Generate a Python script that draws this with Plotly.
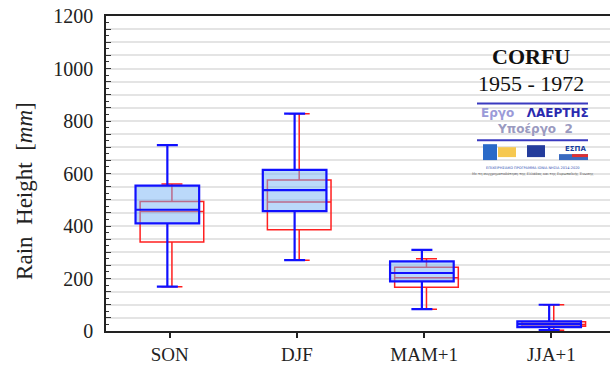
import numpy as np
import plotly.graph_objects as go

categories = ["SON", "DJF", "MAM+1", "JJA+1"]

# Blue series (box statistics, mm)
blue_low = [169, 270, 83, 3]
blue_q1 = [410, 457, 189, 15]
blue_med = [462, 537, 221, 26]
blue_q3 = [554, 614, 265, 37]
blue_high = [708, 828, 309, 100]

# Red series (box statistics, mm)
red_low = [169, 270, 83, 3]
red_q1 = [339, 386, 167, 18]
red_med = [455, 491, 203, 25]
red_q3 = [493, 575, 243, 35]
red_high = [560, 828, 275, 100]

y_tick_values = list(range(0, 1201, 50))
y_tick_labels = [str(v) if v % 200 == 0 else "" for v in y_tick_values]

pos = np.arange(len(categories))
SERIF = "Liberation Serif"

fig = go.Figure()
fig.add_trace(go.Box(
    x=pos + 0.018, q1=red_q1, median=red_med, q3=red_q3,
    lowerfence=red_low, upperfence=red_high,
    width=0.5, whiskerwidth=0.33, boxpoints=False,
    line=dict(color="#ff2020", width=1.5), fillcolor="rgba(0,0,0,0)",
    showlegend=False, hoverinfo="skip"))
fig.add_trace(go.Box(
    x=pos - 0.018, q1=blue_q1, median=blue_med, q3=blue_q3,
    lowerfence=blue_low, upperfence=blue_high,
    width=0.5, whiskerwidth=0.33, boxpoints=False,
    line=dict(color="#1010ff", width=2.2), fillcolor="rgba(120,180,245,0.5)",
    showlegend=False, hoverinfo="skip"))

fig.update_layout(
    width=610, height=365,
    margin=dict(l=106, r=0, t=16, b=32),
    paper_bgcolor="white", plot_bgcolor="white",
    font=dict(family=SERIF, color="#222"),
)
fig.update_xaxes(
    range=[-0.5, 3.46], tickvals=pos, ticktext=categories,
    ticks="outside", ticklen=5, tickcolor="#222", tickwidth=1.5,
    showline=True, linecolor="#222", linewidth=1.5, mirror=True,
    showgrid=False, zeroline=False,
    tickfont=dict(family=SERIF, size=19, color="#222"),
)
fig.update_yaxes(
    range=[0, 1200], tickvals=y_tick_values, ticktext=y_tick_labels,
    ticks="inside", ticklen=5, tickcolor="#333", tickwidth=1,
    minor=dict(dtick=25, ticks="inside", ticklen=3, tickcolor="#333", showgrid=False),
    showline=True, linecolor="#222", linewidth=1.5,
    showgrid=True, gridcolor="#e4e4e4", gridwidth=1.5, zeroline=False,
    tickfont=dict(family=SERIF, size=20, color="#222"),
    ticklabelstandoff=7,
)

def px(x):
    return (x - 106) / 504.0

def py(y):
    return (333 - y) / 317.0

fig.add_annotation(text="Rain  Height  [<i>mm</i>]", x=px(25), y=py(192), xref="paper", yref="paper",
                   showarrow=False, textangle=-90, xanchor="center", yanchor="middle",
                   font=dict(family=SERIF, size=23, color="#222"))

anns = [
    dict(text="<b>CORFU</b>", x=px(531), y=py(57), size=22, color="#111", family=SERIF),
    dict(text="1955 - 1972", x=px(531), y=py(84), size=22, color="#111", family=SERIF),
    dict(text="<b><span style='color:#9a9ad8'>Εργο</span>   <span style='color:#2a2ab0'>ΛΑΕΡΤΗΣ</span></b>",
         x=px(535), y=py(114), size=12, color="#2a2ab0", family="DejaVu Sans"),
    dict(text="<b>Υποέργο  2</b>", x=px(535), y=py(130), size=12, color="#9a9ac0", family="DejaVu Sans"),
    dict(text="<b>ΕΣΠΑ</b>", x=px(575), y=py(150), size=7, color="#1a3fa0", family="DejaVu Sans"),
    dict(text="ΕΠΙΧΕΙΡΗΣΙΑΚΟ ΠΡΟΓΡΑΜΜΑ ΙΟΝΙΑ ΝΗΣΙΑ 2014-2020", x=px(533), y=py(169), size=3.5, color="#2a4ab0", family="DejaVu Sans"),
    dict(text="Με τη συγχρηματοδότηση της Ελλάδας και της Ευρωπαϊκής Ένωσης", x=px(533), y=py(175), size=3.5, color="#666", family="DejaVu Sans"),
]
for a in anns:
    fig.add_annotation(text=a["text"], x=a["x"], y=a["y"], xref="paper", yref="paper",
                       showarrow=False, xanchor="center", yanchor="middle",
                       font=dict(size=a["size"], color=a["color"], family=a["family"]))

shapes = [
    dict(type="line", x0=px(477), x1=px(588), y0=py(104), y1=py(104), line=dict(color="#3a3ac0", width=2)),
    dict(type="line", x0=px(477), x1=px(588), y0=py(141), y1=py(141), line=dict(color="#3a3ac0", width=2)),
    dict(type="rect", x0=px(483), x1=px(497), y0=py(161), y1=py(145), fillcolor="#2a6ac8", line=dict(width=0)),
    dict(type="rect", x0=px(498), x1=px(516), y0=py(158), y1=py(148), fillcolor="#f6c850", line=dict(width=0)),
    dict(type="rect", x0=px(527), x1=px(545), y0=py(158), y1=py(146), fillcolor="#243c9c", line=dict(width=0)),
    dict(type="rect", x0=px(559), x1=px(588), y0=py(161), y1=py(155), fillcolor="#3a6ac0", line=dict(width=0)),
    dict(type="rect", x0=px(572), x1=px(588), y0=py(158), y1=py(155), fillcolor="#e03030", line=dict(width=0)),
]
for s in shapes:
    fig.add_shape(xref="paper", yref="paper", **s)

fig.write_html("out.html")
